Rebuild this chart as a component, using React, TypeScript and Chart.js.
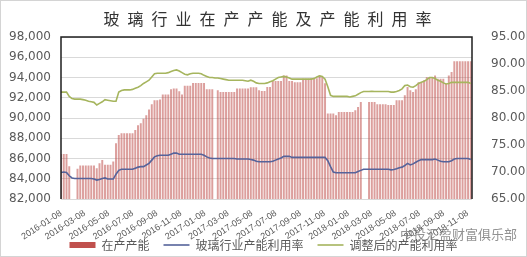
import React, { useEffect, useRef } from "react";
import { Chart, registerables } from "chart.js";

Chart.register(...registerables);

// ---------------- data ----------------
const chartTitle = "玻璃行业在产产能及产能利用率";
const seriesNames = ["在产产能", "玻璃行业产能利用率", "调整后的产能利用率"];
const watermark = "中投汇盈财富俱乐部";

const firstWeek = "2016-01-08"; // weekly observations, one every 7 days
const axisEnd = "2018-11-19";

const tickLabels = [
  "2016-01-08", "2016-03-08", "2016-05-08", "2016-07-08", "2016-09-08", "2016-11-08",
  "2017-01-08", "2017-03-08", "2017-05-08", "2017-07-08", "2017-09-08", "2017-11-08",
  "2018-01-08", "2018-03-08", "2018-05-08", "2018-07-08", "2018-09-08", "2018-11-08",
];

// 在产产能 (left axis)
const capacity: (number | null)[] = [
  86400, 86400, 86400, 85200, null, null, 84950, 85270, 85270, 85270,
  85270, 85270, 85270, 85000, 85500, 85830, 85350, 85350, 85350, 85660,
  87470, 88280, 88450, 88450, 88450, 88450, 88450, 88780, 89260, 89450,
  89900, 90250, 90800, 91330, 91720, 91720, 91800, 92300, 92300, 92300,
  92800, 92870, 92870, 92600, 92300, 93150, 93150, 93150, 93420, 93420,
  93420, 93420, 93420, 92800, 92800, 92800, null, 92700, 92530, 92530,
  92530, 92530, 92530, 92530, 92870, 92870, 92870, 92870, 92870, 93000,
  93000, 93000, 92700, 92640, 92640, 93020, 93020, 93620, 93620, 93620,
  93620, 94170, 94170, 93620, 93620, 93510, 93510, 93510, 93840, 93840,
  93840, 93900, 93900, 93900, 94170, 94000, 93400, 90410, 90410, 90410,
  90250, 90570, 90570, 90570, 90570, 90570, 90570, 90740, 91060, 91550,
  null, null, 91550, 91550, 91550, 91330, 91330, 91330, 91330, 91240,
  91240, 91240, 91720, 91720, 91720, 92210, 93020, 92700, 92530, 92800,
  93510, 93510, 93700, 94000, 94000, 94000, 94170, 93840, 93840, 93840,
  93350, 94170, 94500, 95580, 95580, 95580, 95580, 95580, 95580, 95580,
];

// 玻璃行业产能利用率 (right axis)
const utilization: number[] = [
  69.9, 70.0, 69.9, 69.3, 68.9, 68.8, 68.8, 68.8, 68.8, 68.8,
  68.8, 68.8, 68.7, 68.5, 68.6, 68.8, 68.9, 68.7, 68.7, 68.7,
  69.6, 70.3, 70.5, 70.5, 70.5, 70.5, 70.5, 70.7, 70.9, 71.0,
  71.0, 71.3, 71.6, 72.2, 72.8, 73.0, 73.1, 73.1, 73.1, 73.1,
  73.3, 73.5, 73.5, 73.3, 73.3, 73.3, 73.3, 73.3, 73.3, 73.3,
  73.3, 73.3, 73.1, 72.8, 72.6, 72.5, 72.5, 72.5, 72.5, 72.5,
  72.5, 72.5, 72.5, 72.5, 72.4, 72.4, 72.4, 72.4, 72.4, 72.3,
  72.2, 72.0, 71.9, 71.9, 71.9, 71.9, 71.9, 72.0, 72.2, 72.4,
  72.6, 72.9, 72.9, 72.9, 72.7, 72.7, 72.7, 72.7, 72.7, 72.7,
  72.7, 72.7, 72.7, 72.7, 72.7, 72.7, 72.7, 72.1, 71.0, 70.0,
  69.85, 69.85, 69.85, 69.85, 69.85, 69.85, 69.85, 69.85, 70.1, 70.3,
  70.5, 70.5, 70.5, 70.5, 70.5, 70.5, 70.5, 70.5, 70.5, 70.5,
  70.4, 70.45, 70.6, 70.8, 70.9, 71.2, 71.6, 71.3, 71.5, 71.8,
  72.1, 72.3, 72.3, 72.3, 72.3, 72.3, 72.4, 72.2, 72.0, 71.9,
  71.9, 71.9, 72.1, 72.4, 72.5, 72.5, 72.5, 72.5, 72.5, 72.3,
];

// 调整后的产能利用率 (right axis)
const adjustedUtilization: number[] = [
  84.8, 84.8, 84.8, 84.0, 83.6, 83.5, 83.5, 83.5, 83.4, 83.3,
  83.1, 83.0, 82.9, 82.4, 82.7, 83.0, 83.4, 83.3, 83.2, 83.1,
  83.1, 84.8, 85.1, 85.2, 85.2, 85.2, 85.3, 85.5, 85.7, 86.0,
  86.4, 86.7, 87.0, 87.6, 88.2, 88.3, 88.3, 88.3, 88.3, 88.4,
  88.6, 88.8, 88.9, 88.7, 88.4, 88.1, 88.0, 88.2, 88.3, 88.3,
  88.3, 88.2, 87.9, 87.7, 87.5, 87.5, 87.4, 87.4, 87.3, 87.2,
  87.1, 87.0, 87.0, 87.0, 87.0, 87.0, 87.0, 86.9, 86.8, 87.0,
  86.8, 86.5, 86.4, 86.4, 86.4, 86.5, 86.7, 86.9, 87.2, 87.5,
  87.6, 87.7, 87.6, 87.4, 87.2, 87.2, 87.2, 87.2, 87.2, 87.2,
  87.2, 87.2, 87.3, 87.6, 87.8, 87.7, 87.2, 85.8, 84.2, 84.0,
  84.0, 84.0, 84.0, 84.0, 84.0, 83.9, 84.0, 84.1, 84.4, 84.7,
  84.9, 84.9, 84.9, 84.95, 84.9, 84.9, 84.9, 84.9, 84.9, 84.9,
  84.8, 84.8, 84.9, 85.1, 85.4, 86.0, 86.1, 85.8, 85.7, 86.0,
  86.4, 86.6, 86.8, 87.1, 87.5, 87.5, 87.3, 87.0, 86.8, 86.5,
  86.3, 86.4, 86.6, 86.6, 86.6, 86.6, 86.6, 86.6, 86.6, 86.4,
];

// ---------------- helpers ----------------
const DAY_MS = 86400000;
const dayOf = (s: string) => Math.round((Date.parse(s) - Date.parse(firstWeek)) / DAY_MS);
const weekDay = (i: number) => i * 7;
const tickDays = tickLabels.map(dayOf);

const BAR_COLOR = "rgba(192, 80, 77, 0.55)";
const BLUE = "#56639a";
const GREEN = "#a6b55e";
const TEXT = "#595959";

const framePlugin = {
  id: "frame",
  afterDatasetsDraw(chart: any) {
    const { ctx, chartArea } = chart;
    const { left, top, right, bottom } = chartArea;
    ctx.save();
    ctx.strokeStyle = "#1f1f1f";
    ctx.lineWidth = 1.5;
    ctx.beginPath();
    ctx.moveTo(left, bottom);
    ctx.lineTo(left, top);
    ctx.lineTo(right, top);
    ctx.lineTo(right, bottom);
    ctx.stroke();
    ctx.restore();
  },
  afterDraw(chart: any) {
    const { ctx, width, height } = chart;
    ctx.save();
    ctx.strokeStyle = "#d4d4d4";
    ctx.lineWidth = 1;
    ctx.strokeRect(0.5, 0.5, width - 1, height - 1);
    ctx.restore();
  },
};

export default function App() {
  const canvasRef = useRef<HTMLCanvasElement | null>(null);

  useEffect(() => {
    document.body.style.margin = "0";
    const canvas = canvasRef.current;
    if (!canvas) return;

    const chart = new Chart(canvas, {
      type: "bar",
      data: {
        datasets: [
          {
            type: "bar",
            label: seriesNames[0],
            data: capacity.map((v, i) => ({ x: weekDay(i), y: v })) as any,
            backgroundColor: BAR_COLOR,
            borderWidth: 0,
            barThickness: 1.3,
            yAxisID: "y",
            order: 2,
          },
          {
            type: "line",
            label: seriesNames[1],
            data: utilization.map((v, i) => ({ x: weekDay(i), y: v })) as any,
            borderColor: BLUE,
            backgroundColor: BLUE,
            borderWidth: 1.6,
            pointRadius: 0,
            tension: 0,
            yAxisID: "y1",
            order: 1,
          },
          {
            type: "line",
            label: seriesNames[2],
            data: adjustedUtilization.map((v, i) => ({ x: weekDay(i), y: v })) as any,
            borderColor: GREEN,
            backgroundColor: GREEN,
            borderWidth: 1.6,
            pointRadius: 0,
            tension: 0,
            yAxisID: "y1",
            order: 0,
          },
        ],
      },
      options: {
        responsive: false,
        animation: false,
        devicePixelRatio: 1,
        layout: { padding: { top: 37, left: 0, right: 0, bottom: -4 } },
        plugins: {
          title: { display: false },
          tooltip: { enabled: false },
          legend: {
            display: true,
            position: "bottom",
            labels: {
              usePointStyle: true,
              pointStyleWidth: 26,
              boxHeight: 6,
              padding: 14,
              color: TEXT,
              font: { family: "'Noto Sans CJK SC', sans-serif", size: 12 },
              generateLabels: (chart: any) =>
                chart.data.datasets.map((ds: any, i: number) => ({
                  text: ds.label,
                  fillStyle: ds.type === "bar" ? "#c0504d" : ds.borderColor,
                  strokeStyle: ds.type === "bar" ? "#c0504d" : ds.borderColor,
                  lineWidth: ds.type === "bar" ? 0 : 1.6,
                  pointStyle: ds.type === "bar" ? "rect" : "line",
                  datasetIndex: i,
                  hidden: false,
                  fontColor: TEXT,
                })),
            },
          },
        },
        scales: {
          x: {
            type: "linear",
            min: 0,
            max: dayOf(axisEnd),
            offset: false,
            grid: { display: false, offset: false },
            border: { display: false },
            afterBuildTicks: (scale: any) => {
              scale.ticks = tickDays.map((v) => ({ value: v }));
            },
            afterFit: (scale: any) => {
              scale.height = 26;
            },
            afterUpdate: (scale: any) => {
              // let the slanted date labels run past the axis box (no clipping)
              scale._computeLabelArea = () => undefined;
            },
            ticks: {
              autoSkip: false,
              minRotation: 33,
              maxRotation: 33,
              padding: 1,
              color: TEXT,
              font: { family: "'Liberation Sans', sans-serif", size: 9 },
              callback: (_v: any, index: number) => tickLabels[index],
            },
          },
          y: {
            type: "linear",
            position: "left",
            min: 82000,
            max: 98000,
            grid: { color: "#d9d9d9", drawTicks: false, lineWidth: 1 },
            border: { display: false },
            afterFit: (scale: any) => {
              scale.width = 61;
            },
            ticks: {
              stepSize: 2000,
              padding: 10,
              color: TEXT,
              font: { family: "'DejaVu Sans', sans-serif", size: 12 },
            },
          },
          y1: {
            type: "linear",
            position: "right",
            min: 65,
            max: 95,
            grid: { display: false },
            border: { display: false },
            afterFit: (scale: any) => {
              scale.width = 55;
            },
            ticks: {
              stepSize: 5,
              padding: 11,
              color: TEXT,
              font: { family: "'DejaVu Sans', sans-serif", size: 12 },
              callback: (v: any) => Number(v).toFixed(2),
            },
          },
        },
      },
      plugins: [framePlugin],
    } as any);

    return () => chart.destroy();
  }, []);

  return (
    <div style={{ position: "relative", width: 527, height: 257, background: "#fff" }}>
      <canvas ref={canvasRef} width={527} height={257} style={{ display: "block" }} />
      <div
        style={{
          position: "absolute",
          top: 8,
          left: 8,
          width: 527,
          textAlign: "center",
          fontFamily: "'Noto Sans CJK SC', sans-serif",
          fontSize: 16,
          letterSpacing: 8,
          color: "#333",
          lineHeight: "20px",
          pointerEvents: "none",
        }}
      >
        {chartTitle}
      </div>
      <div
        style={{
          position: "absolute",
          top: 226,
          left: 400,
          fontFamily: "'Noto Sans CJK SC', sans-serif",
          fontSize: 13,
          color: "rgba(110,110,110,0.75)",
          lineHeight: "16px",
          pointerEvents: "none",
        }}
      >
        {watermark}
      </div>
    </div>
  );
}
